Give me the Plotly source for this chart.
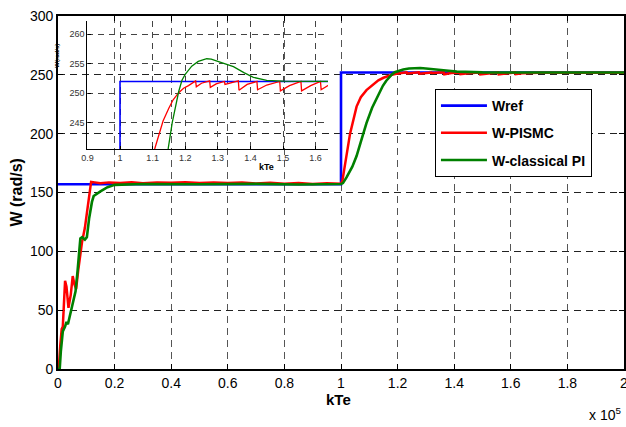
import plotly.graph_objects as go

# ---- data (x in units of 1e5 kTe) ----
wref_x = [0.0, 1.0, 1.0, 2.0]
wref_y = [157, 157, 252, 252]

pismc_x = [0.0, 0.004, 0.008, 0.013, 0.017, 0.021, 0.025, 0.03, 0.037, 0.045, 0.052, 0.058, 0.064,
           0.072, 0.08, 0.085, 0.095, 0.108, 0.113, 0.117, 0.13, 0.15, 0.18, 0.22, 0.26, 0.3, 0.35,
           0.4, 0.45, 0.5, 0.55, 0.6, 0.65, 0.7, 0.75, 0.8, 0.85, 0.9, 0.95, 0.99, 1.0,
           1.005, 1.015, 1.032, 1.055, 1.07, 1.09, 1.107, 1.12, 1.132, 1.15, 1.163, 1.18, 1.195,
           1.21, 1.232, 1.234, 1.25, 1.275, 1.277, 1.295, 1.32, 1.322, 1.34, 1.363, 1.365, 1.39,
           1.42, 1.422, 1.45, 1.49, 1.492, 1.52, 1.555, 1.557, 1.585, 1.615, 1.617, 1.64, 1.7,
           1.8, 1.9, 2.0]
pismc_y = [0, 5, 20, 34, 36, 55, 75, 70, 52, 63, 79, 72, 68,
           85, 100, 108, 120, 144, 155, 159, 158.6, 157.8, 158.6, 158.0, 158.8, 157.9, 158.5,
           158.2, 158.7, 158.0, 158.6, 158.1, 158.5, 157.6, 158.3, 157.5, 158.0, 157.2, 157.8, 157.3, 157.5,
           160, 175, 200, 223, 231, 237, 240.7, 243, 245.3, 247.5, 248.9, 250.1, 250.85,
           251.3, 252.1, 251.1, 251.7, 252.1, 251.0, 251.6, 252.0, 251.5, 251.8, 252.1, 250.5, 251.5,
           252.0, 250.6, 251.4, 252.0, 250.4, 251.3, 252.0, 250.4, 251.3, 252.0, 250.6, 251.4, 251.8,
           251.7, 251.8, 251.8]

pi_x = [0.0, 0.006, 0.01, 0.017, 0.025, 0.03, 0.035, 0.045, 0.055, 0.062, 0.069, 0.075, 0.079,
        0.085, 0.095, 0.102, 0.11, 0.12, 0.126, 0.15, 0.175, 0.2, 0.25, 0.3, 0.5, 0.7, 0.85, 1.0,
        1.007, 1.02, 1.04, 1.055, 1.07, 1.09, 1.11, 1.137, 1.148, 1.16, 1.17, 1.18, 1.19, 1.2,
        1.22, 1.24, 1.266, 1.28, 1.3, 1.348, 1.38, 1.409, 1.45, 1.5, 1.6, 1.8, 2.0]
pi_y = [0, 0, 15, 32, 36, 40, 38, 49, 58, 66, 83, 100, 111,
        112, 110, 112, 128, 142, 147, 151, 154.5, 156.5, 157, 157.2, 157, 157.3, 156.8, 157.2,
        158, 163, 172, 181, 193, 209, 222, 236, 240.7, 245, 248, 250.3, 252.2, 253.2,
        254.6, 255.4, 255.85, 255.8, 255.4, 254.5, 253.5, 252.7, 252.2, 252.05, 252.0, 252.0, 252.0]

main_yticks = [0, 50, 100, 150, 200, 250, 300]
main_xticks = [0, 0.2, 0.4, 0.6, 0.8, 1.0, 1.2, 1.4, 1.6, 1.8, 2.0]
main_xticklabels = ["0", "0.2", "0.4", "0.6", "0.8", "1", "1.2", "1.4", "1.6", "1.8", "2"]
inset_xticks = [0.9, 1.0, 1.1, 1.2, 1.3, 1.4, 1.5, 1.6]
inset_xticklabels = ["0.9", "1", "1.1", "1.2", "1.3", "1.4", "1.5", "1.6"]
inset_yticks = [245, 250, 255, 260]

names = ["Wref", "W-PISMC", "W-classical PI"]
colors = ["#0000ff", "#ff0000", "#008000"]

FONT = "Liberation Sans Narrow, Arial Narrow, Liberation Sans, Arial, sans-serif"
SMALL = "Liberation Sans, Arial, sans-serif"

fig = go.Figure()
series = [(wref_x, wref_y), (pismc_x, pismc_y), (pi_x, pi_y)]
main_w = [2.6, 2.5, 2.6]
for (sx, sy), n, c, w in zip(series, names, colors, main_w):
    fig.add_trace(go.Scatter(x=sx, y=sy, mode="lines", name=n, legendgroup=n,
                             line=dict(color=c, width=w), xaxis="x", yaxis="y"))
inset_w = [1.6, 1.3, 1.3]
for (sx, sy), n, c, w in zip(series, names, colors, inset_w):
    fig.add_trace(go.Scatter(x=sx, y=sy, mode="lines", name=n, showlegend=False,
                             line=dict(color=c, width=w), xaxis="x2", yaxis="y2"))

fig.update_layout(
    width=626, height=427,
    margin=dict(l=58, r=2, t=16, b=58, autoexpand=False),
    paper_bgcolor="white", plot_bgcolor="rgba(0,0,0,0)",
    font=dict(family=FONT, size=14, color="black"),
    xaxis=dict(domain=[0, 1], range=[0, 2], tickvals=main_xticks, ticktext=main_xticklabels,
               showline=True, linecolor="black", linewidth=1.6, mirror="ticks",
               ticks="inside", ticklen=5, tickcolor="black",
               showgrid=True, gridcolor="#555555", griddash="7px,5px", gridwidth=1,
               zeroline=False, tickfont=dict(size=14, family=FONT)),
    yaxis=dict(domain=[0, 1], range=[0, 300], tickvals=main_yticks,
               showline=True, linecolor="black", linewidth=1.6, mirror="ticks",
               ticks="inside", ticklen=5, tickcolor="black",
               showgrid=True, gridcolor="#222222", griddash="7px,5px", gridwidth=1,
               zeroline=False, tickfont=dict(size=14, family=FONT)),
    xaxis2=dict(domain=[0.052, 0.477], range=[0.9, 1.638], anchor="y2",
                tickvals=inset_xticks, ticktext=inset_xticklabels,
                showline=True, linecolor="black", linewidth=1.2, mirror=False,
                ticks="inside", ticklen=3, tickcolor="black",
                showgrid=True, gridcolor="#444444", griddash="6px,5px", gridwidth=1,
                zeroline=False, tickfont=dict(size=9, color="#333333", family=SMALL)),
    yaxis2=dict(domain=[0.623, 0.986], range=[240.55, 262.25], anchor="x2",
                tickvals=inset_yticks,
                showline=True, linecolor="black", linewidth=1.2, mirror=False,
                ticks="inside", ticklen=3, tickcolor="black",
                showgrid=True, gridcolor="#444444", griddash="6px,5px", gridwidth=1,
                zeroline=False, tickfont=dict(size=9, color="#333333", family=SMALL)),
    legend=dict(x=0.666, y=0.793, xanchor="left", yanchor="top",
                bgcolor="white", bordercolor="black", borderwidth=1,
                font=dict(family=FONT, size=14, color="black", weight="bold"),
                traceorder="grouped", tracegroupgap=6, itemwidth=46),
    showlegend=True,
)

fig.add_annotation(text="<b>W (rad/s)</b>", xref="paper", yref="paper", x=-0.0733, y=0.4986,
                   textangle=-90, showarrow=False, font=dict(size=16, family=FONT),
                   xanchor="center", yanchor="middle")
fig.add_annotation(text="<b>kTe</b>", xref="paper", yref="paper", x=0.4947, y=-0.0878,
                   showarrow=False, font=dict(size=15, family=FONT), xanchor="center", yanchor="middle")
fig.add_annotation(text="x 10<sup>5</sup>", xref="paper", yref="paper", x=0.966, y=-0.128,
                   showarrow=False, font=dict(size=14, family=FONT), xanchor="center", yanchor="middle")
fig.add_annotation(text=main_xticklabels[-1], xref="x", yref="paper", x=main_xticks[-1], y=-0.04,
                   showarrow=False, font=dict(size=14, family=FONT), xanchor="center", yanchor="middle")
fig.add_annotation(text="<b>kTe</b>", xref="paper", yref="paper", x=0.3675, y=0.572,
                   showarrow=False, font=dict(size=9, family=SMALL),
                   xanchor="center", yanchor="middle")
fig.add_annotation(text="<b>W(rad/s)</b>", xref="paper", yref="paper", x=-0.002, y=0.887,
                   textangle=-90, showarrow=False, font=dict(size=6, family=SMALL),
                   xanchor="center", yanchor="middle")

fig.write_html("out.html", config={"displayModeBar": False},
               post_script="document.body.style.margin='0';document.body.style.padding='0';")
